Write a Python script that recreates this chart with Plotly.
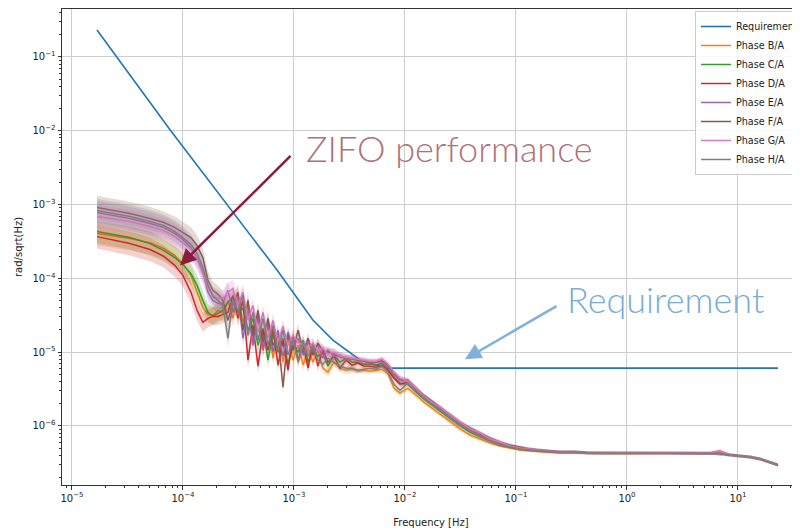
import plotly.graph_objects as go

# ---------------- data ----------------
freq = [
    1.68e-5, 3.33e-5, 5.04e-5, 6.74e-5, 8.47e-5, 1.00e-4, 1.18e-4, 1.34e-4, 1.51e-4, 1.68e-4, 1.86e-4, 2.07e-4,
    2.29e-4, 2.54e-4, 2.82e-4, 3.13e-4, 3.47e-4, 3.85e-4, 4.27e-4, 4.74e-4, 5.26e-4, 5.83e-4,
    6.47e-4, 7.18e-4, 7.96e-4, 8.83e-4, 9.79e-4, 1.09e-3, 1.21e-3, 1.34e-3, 1.48e-3, 1.64e-3,
    1.82e-3, 2.02e-3, 2.29e-3, 2.60e-3, 2.94e-3, 3.33e-3, 3.77e-3, 4.27e-3, 4.84e-3, 5.48e-3,
    6.21e-3, 7.03e-3, 7.96e-3, 9.02e-3,
    1.06e-2, 1.26e-2, 1.48e-2, 1.75e-2, 2.07e-2, 2.54e-2, 3.13e-2, 3.85e-2, 4.74e-2, 5.83e-2,
    7.18e-2, 8.83e-2, 0.109, 0.134, 0.182, 0.249, 0.340, 0.464, 0.633, 0.865,
    1.18, 1.61, 2.20, 3.00, 4.10, 5.59, 6.88, 8.47, 10.4, 12.8,
    15.8, 19.4, 22.9,
]

requirement_freq = [1.68e-5, 7.64e-5, 7.03e-4, 1.48e-3, 2.24e-3, 3.94e-3, 6.89e-3, 22.9]
requirement = [0.232, 1.03e-2, 1.30e-4, 2.73e-5, 1.46e-5, 7.83e-6, 6.07e-6, 6.07e-6]

phase_b = [
    4.05e-4, 3.46e-4, 3.05e-4, 2.53e-4, 2.04e-4, 1.59e-4, 1.09e-4, 6.46e-5, 4.05e-5, 3.25e-5, 3.15e-5, 3.68e-5,
    3.46e-5, 5.03e-5, 2.87e-5, 5.70e-5, 2.53e-5, 4.31e-5, 1.45e-5, 2.87e-5, 1.06e-5, 2.31e-5,
    8.29e-6, 1.69e-5, 7.32e-6, 1.54e-5, 7.79e-6, 1.24e-5, 6.67e-6, 1.13e-5, 7.32e-6, 1.06e-5,
    6.07e-6, 5.36e-6, 7.32e-6, 6.07e-6, 5.70e-6, 5.88e-6, 5.53e-6, 5.70e-6, 5.53e-6, 5.70e-6,
    5.88e-6, 5.03e-6, 3.25e-6, 2.78e-6,
    3.25e-6, 2.61e-6, 2.10e-6, 1.74e-6, 1.45e-6, 1.13e-6, 9.11e-7, 7.55e-7, 6.67e-7, 5.88e-7,
    5.36e-7, 5.03e-7, 4.73e-7, 4.58e-7, 4.44e-7, 4.31e-7, 4.31e-7, 4.24e-7, 4.24e-7, 4.24e-7,
    4.24e-7, 4.24e-7, 4.24e-7, 4.24e-7, 4.24e-7, 4.24e-7, 4.31e-7, 4.05e-7, 3.92e-7, 3.80e-7,
    3.57e-7, 3.25e-7, 2.96e-7,
]
phase_c = [
    4.31e-4, 3.57e-4, 2.96e-4, 2.38e-4, 1.91e-4, 1.54e-4, 1.16e-4, 8.04e-5, 5.03e-5, 3.46e-5, 3.05e-5, 3.35e-5,
    3.68e-5, 4.73e-5, 5.70e-5, 3.46e-5, 3.92e-5, 1.98e-5, 2.87e-5, 1.24e-5, 2.10e-5, 7.79e-6,
    1.80e-5, 1.00e-5, 1.54e-5, 6.88e-6, 1.24e-5, 1.00e-5, 1.45e-5, 7.32e-6, 1.13e-5, 8.83e-6,
    1.00e-5, 6.46e-6, 9.11e-6, 7.32e-6, 8.29e-6, 7.32e-6, 7.32e-6, 6.88e-6, 6.88e-6, 6.67e-6,
    7.10e-6, 5.88e-6, 4.58e-6, 3.80e-6,
    3.68e-6, 2.87e-6, 2.31e-6, 1.91e-6, 1.59e-6, 1.24e-6, 1.00e-6, 8.29e-7, 7.10e-7, 6.26e-7,
    5.53e-7, 5.19e-7, 4.88e-7, 4.73e-7, 4.58e-7, 4.44e-7, 4.44e-7, 4.31e-7, 4.31e-7, 4.31e-7,
    4.31e-7, 4.31e-7, 4.31e-7, 4.31e-7, 4.31e-7, 4.31e-7, 4.24e-7, 4.05e-7, 3.92e-7, 3.80e-7,
    3.57e-7, 3.25e-7, 2.96e-7,
]
phase_d = [
    3.68e-4, 2.96e-4, 2.46e-4, 1.98e-4, 1.49e-4, 1.09e-4, 6.46e-5, 3.68e-5, 2.53e-5, 2.87e-5, 3.05e-5, 3.05e-5,
    3.25e-5, 3.46e-5, 5.88e-5, 2.87e-5, 5.03e-5, 7.79e-6, 2.31e-5, 6.46e-6, 1.98e-5, 1.06e-5,
    2.10e-5, 6.67e-6, 1.45e-5, 5.70e-6, 1.69e-5, 7.79e-6, 1.24e-5, 6.07e-6, 1.32e-5, 6.46e-6,
    1.06e-5, 7.32e-6, 8.83e-6, 6.07e-6, 7.79e-6, 6.67e-6, 7.10e-6, 6.46e-6, 6.46e-6, 6.26e-6,
    6.67e-6, 5.70e-6, 4.44e-6, 3.68e-6,
    3.92e-6, 3.05e-6, 2.46e-6, 2.04e-6, 1.69e-6, 1.32e-6, 1.06e-6, 8.83e-7, 7.55e-7, 6.46e-7,
    5.70e-7, 5.19e-7, 4.88e-7, 4.73e-7, 4.58e-7, 4.44e-7, 4.44e-7, 4.31e-7, 4.31e-7, 4.31e-7,
    4.31e-7, 4.31e-7, 4.31e-7, 4.31e-7, 4.31e-7, 4.31e-7, 4.58e-7, 4.05e-7, 3.92e-7, 3.80e-7,
    3.57e-7, 3.25e-7, 2.96e-7,
]
phase_e = [
    7.79e-4, 6.46e-4, 5.53e-4, 4.88e-4, 4.05e-4, 3.35e-4, 2.61e-4, 1.91e-4, 1.24e-4, 6.46e-5, 5.03e-5, 4.58e-5,
    4.58e-5, 6.88e-5, 3.46e-5, 5.88e-5, 1.54e-5, 3.68e-5, 1.24e-5, 3.15e-5, 1.06e-5, 2.53e-5,
    1.00e-5, 1.98e-5, 8.83e-6, 1.86e-5, 1.13e-5, 1.54e-5, 9.11e-6, 1.36e-5, 1.00e-5, 1.24e-5,
    8.29e-6, 1.06e-5, 8.83e-6, 9.11e-6, 8.04e-6, 8.29e-6, 7.79e-6, 7.55e-6, 7.32e-6, 7.32e-6,
    7.55e-6, 6.46e-6, 5.03e-6, 4.17e-6,
    4.05e-6, 3.15e-6, 2.53e-6, 2.10e-6, 1.74e-6, 1.36e-6, 1.09e-6, 9.11e-7, 7.79e-7, 6.67e-7,
    5.88e-7, 5.36e-7, 5.03e-7, 4.88e-7, 4.58e-7, 4.44e-7, 4.44e-7, 4.31e-7, 4.31e-7, 4.31e-7,
    4.31e-7, 4.31e-7, 4.31e-7, 4.31e-7, 4.31e-7, 4.31e-7, 4.24e-7, 4.05e-7, 3.92e-7, 3.80e-7,
    3.57e-7, 3.25e-7, 2.96e-7,
]
phase_f = [
    9.11e-4, 7.55e-4, 6.46e-4, 5.70e-4, 4.88e-4, 4.17e-4, 3.57e-4, 2.78e-4, 1.91e-4, 9.39e-5, 6.88e-5, 6.07e-5,
    5.03e-5, 2.70e-5, 4.44e-5, 6.46e-5, 1.98e-5, 5.03e-5, 1.69e-5, 3.68e-5, 1.36e-5, 2.87e-5,
    1.24e-5, 1.64e-5, 3.35e-6, 1.69e-5, 1.06e-5, 1.98e-5, 1.00e-5, 1.54e-5, 9.11e-6, 1.32e-5,
    1.06e-5, 1.00e-5, 9.69e-6, 8.56e-6, 8.29e-6, 8.04e-6, 7.79e-6, 7.55e-6, 7.32e-6, 7.32e-6,
    7.79e-6, 6.67e-6, 5.19e-6, 4.31e-6,
    4.17e-6, 3.25e-6, 2.61e-6, 2.17e-6, 1.80e-6, 1.40e-6, 1.13e-6, 9.39e-7, 8.04e-7, 6.88e-7,
    6.07e-7, 5.53e-7, 5.19e-7, 4.88e-7, 4.58e-7, 4.44e-7, 4.44e-7, 4.31e-7, 4.31e-7, 4.31e-7,
    4.31e-7, 4.31e-7, 4.31e-7, 4.31e-7, 4.31e-7, 4.31e-7, 4.24e-7, 4.05e-7, 3.92e-7, 3.80e-7,
    3.57e-7, 3.25e-7, 2.96e-7,
]
phase_g = [
    6.88e-4, 5.88e-4, 5.03e-4, 4.44e-4, 3.68e-4, 3.05e-4, 2.46e-4, 1.80e-4, 1.16e-4, 7.32e-5, 5.88e-5, 5.36e-5,
    5.36e-5, 6.46e-5, 7.32e-5, 4.31e-5, 6.46e-5, 2.70e-5, 4.31e-5, 1.86e-5, 3.46e-5, 1.54e-5,
    2.70e-5, 1.36e-5, 2.24e-5, 1.24e-5, 1.69e-5, 1.36e-5, 1.24e-5, 1.16e-5, 1.32e-5, 1.06e-5,
    1.13e-5, 9.39e-6, 1.00e-5, 8.83e-6, 8.56e-6, 8.29e-6, 8.04e-6, 7.79e-6, 7.55e-6, 7.55e-6,
    8.04e-6, 6.88e-6, 5.36e-6, 4.44e-6,
    4.05e-6, 3.25e-6, 2.53e-6, 2.10e-6, 1.80e-6, 1.40e-6, 1.13e-6, 9.11e-7, 8.04e-7, 6.67e-7,
    6.07e-7, 5.36e-7, 5.03e-7, 4.88e-7, 4.58e-7, 4.44e-7, 4.44e-7, 4.31e-7, 4.31e-7, 4.31e-7,
    4.31e-7, 4.31e-7, 4.31e-7, 4.31e-7, 4.31e-7, 4.31e-7, 4.58e-7, 4.05e-7, 3.92e-7, 3.80e-7,
    3.57e-7, 3.25e-7, 2.96e-7,
]
phase_h = [
    8.29e-4, 6.88e-4, 5.88e-4, 5.19e-4, 4.31e-4, 3.57e-4, 2.87e-4, 2.17e-4, 1.40e-4, 8.04e-5, 5.70e-5, 5.03e-5,
    4.31e-5, 1.54e-5, 5.03e-5, 3.68e-5, 5.88e-5, 1.69e-5, 3.46e-5, 1.45e-5, 2.87e-5, 1.24e-5,
    2.31e-5, 1.06e-5, 1.98e-5, 9.11e-6, 1.54e-5, 7.32e-6, 1.36e-5, 8.83e-6, 1.24e-5, 7.79e-6,
    6.88e-6, 8.29e-6, 7.32e-6, 6.46e-6, 6.07e-6, 6.07e-6, 5.70e-6, 5.88e-6, 6.07e-6, 5.88e-6,
    6.46e-6, 5.36e-6, 3.68e-6, 3.05e-6,
    3.80e-6, 2.96e-6, 2.38e-6, 1.98e-6, 1.64e-6, 1.28e-6, 1.03e-6, 8.56e-7, 7.32e-7, 6.26e-7,
    5.53e-7, 5.19e-7, 4.88e-7, 4.73e-7, 4.58e-7, 4.44e-7, 4.44e-7, 4.31e-7, 4.31e-7, 4.31e-7,
    4.31e-7, 4.31e-7, 4.31e-7, 4.31e-7, 4.31e-7, 4.31e-7, 4.24e-7, 4.05e-7, 3.92e-7, 3.80e-7,
    3.57e-7, 3.25e-7, 2.96e-7,
]

# half-width of the shaded uncertainty band, in decades, at each frequency
band_dex = [
    0.16, 0.16, 0.16, 0.15, 0.15, 0.15, 0.14, 0.14, 0.13, 0.12, 0.12, 0.12,
    0.12, 0.12, 0.12, 0.11, 0.11, 0.11, 0.10, 0.10, 0.10, 0.10,
    0.09, 0.09, 0.09, 0.09, 0.08, 0.08, 0.08, 0.07, 0.07, 0.07,
    0.06, 0.06, 0.06, 0.05, 0.05, 0.05, 0.04, 0.04, 0.04, 0.04,
    0.04, 0.04, 0.04, 0.04,
    0.035, 0.035, 0.03, 0.03, 0.03, 0.03, 0.03, 0.03, 0.025, 0.025,
    0.025, 0.02, 0.02, 0.02, 0.02, 0.02, 0.02, 0.02, 0.02, 0.02,
    0.02, 0.02, 0.02, 0.02, 0.02, 0.02, 0.02, 0.02, 0.02, 0.02,
    0.02, 0.02, 0.02,
]

series_names = ["Phase B/A", "Phase C/A", "Phase D/A", "Phase E/A", "Phase F/A", "Phase G/A", "Phase H/A"]
series_values = [phase_b, phase_c, phase_d, phase_e, phase_f, phase_g, phase_h]
series_colors = ["#ff7f0e", "#2ca02c", "#d62728", "#9467bd", "#8c564b", "#e377c2", "#7f7f7f"]
series_rgb = ["255,127,14", "44,160,44", "214,39,40", "148,103,189", "140,86,75", "227,119,194", "127,127,127"]

x_tickvals = [1e-5, 1e-4, 1e-3, 1e-2, 1e-1, 1, 10]
x_ticktext = ["10<sup>\u22125</sup>", "10<sup>\u22124</sup>", "10<sup>\u22123</sup>", "10<sup>\u22122</sup>",
              "10<sup>\u22121</sup>", "10<sup>0</sup>", "10<sup>1</sup>"]
y_tickvals = [1e-6, 1e-5, 1e-4, 1e-3, 1e-2, 1e-1]
y_ticktext = ["10<sup>\u22126</sup>", "10<sup>\u22125</sup>", "10<sup>\u22124</sup>", "10<sup>\u22123</sup>",
              "10<sup>\u22122</sup>", "10<sup>\u22121</sup>"]
minor_vals = [m * 10.0 ** e for e in range(-7, 3) for m in range(2, 10)]

# ---------------- figure ----------------
fig = go.Figure()
fig.add_trace(go.Scatter(x=requirement_freq, y=requirement, mode="lines", name="Requirement",
                         line=dict(color="#1f77b4", width=1.6)))

for name, vals, col, rgb in zip(series_names, series_values, series_colors, series_rgb):
    upper = [v * 10 ** d for v, d in zip(vals, band_dex)]
    lower = [v / 10 ** d for v, d in zip(vals, band_dex)]
    fig.add_trace(go.Scatter(x=freq + freq[::-1], y=upper + lower[::-1], fill="toself",
                             fillcolor=f"rgba({rgb},0.22)", line=dict(width=0), mode="lines",
                             hoverinfo="skip", showlegend=False))
    fig.add_trace(go.Scatter(x=freq, y=vals, mode="lines", name=name, line=dict(color=col, width=1.5)))

axis_common = dict(
    type="log", showgrid=True, gridcolor="#cdcdcd", gridwidth=1.2, automargin=False,
    showline=True, linecolor="#333333", linewidth=1,
    ticks="outside", ticklen=3.5, tickwidth=1, tickcolor="#333333",
    tickfont=dict(family="DejaVu Sans", size=10, color="#222222"),
    minor=dict(tickmode="array", tickvals=minor_vals, ticks="outside", ticklen=2,
               tickwidth=0.6, tickcolor="#333333", showgrid=False),
)

# the page has an 8px body margin, so the figure is 792x520 and sits at (8, 8)
fig.update_layout(
    width=792, height=520,
    margin=dict(l=54, r=0, t=1, b=43, autoexpand=False),
    paper_bgcolor="white", plot_bgcolor="white",
    font=dict(family="DejaVu Sans", size=10, color="#222222"),
    xaxis=dict(axis_common, range=[-5.090, 1.5586], tickmode="array", tickvals=x_tickvals,
               ticktext=x_ticktext, mirror=True,
               title=dict(text="Frequency [Hz]", font=dict(size=10), standoff=18)),
    yaxis=dict(axis_common, range=[-6.80, -0.350], tickmode="array", tickvals=y_tickvals,
               ticktext=y_ticktext),
    legend=dict(x=0.8577, y=0.9958, xanchor="left", yanchor="top",
                bgcolor="rgba(255,255,255,0.85)", bordercolor="#cccccc", borderwidth=1,
                font=dict(family="DejaVu Sans", size=9.6, color="#222222"),
                itemwidth=30, tracegroupgap=0),
    showlegend=True,
)

fig.add_annotation(xref="paper", yref="paper", x=-0.0596, y=0.5, xanchor="center", yanchor="middle",
                   text="rad/sqrt(Hz)", textangle=-90, showarrow=False,
                   font=dict(family="DejaVu Sans", size=10, color="#222222"))

label_font = "Lato Light, Roboto Light, Lato, sans-serif"
fig.add_annotation(xref="paper", yref="paper", x=0.328, y=0.708, xanchor="left", yanchor="middle",
                   text="ZIFO performance", showarrow=False,
                   font=dict(family=label_font, size=36, color="#b0707a", weight=300))
fig.add_annotation(xref="paper", yref="paper", x=0.1599, y=0.4612, text="", showarrow=True,
                   axref="pixel", ayref="pixel", ax=112, ay=-111,
                   arrowhead=2, arrowsize=1.3, arrowwidth=2.5, arrowcolor="#8e1b3e")
fig.add_annotation(xref="paper", yref="paper", x=0.681, y=0.390, xanchor="left", yanchor="middle",
                   text="Requirement", showarrow=False,
                   font=dict(family=label_font, size=36, color="#7aacd6", weight=300))
fig.add_annotation(xref="paper", yref="paper", x=0.5461, y=0.2642, text="", showarrow=True,
                   axref="pixel", ayref="pixel", ax=93, ay=-54,
                   arrowhead=2, arrowsize=1.3, arrowwidth=2.5, arrowcolor="#7fb1dc")

fig.write_html("out.html")
